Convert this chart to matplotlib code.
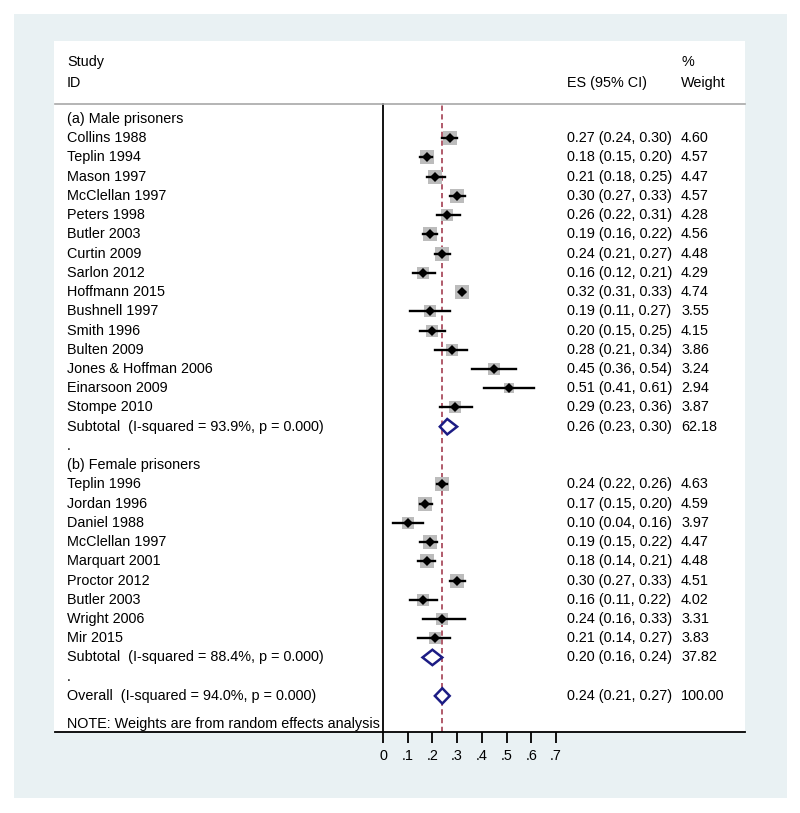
import matplotlib
matplotlib.use("Agg")
import matplotlib.pyplot as plt
from matplotlib.patches import Rectangle, Polygon
from matplotlib.lines import Line2D
import matplotlib.transforms as mtransforms

plt.rcParams['font.family'] = ['Liberation Sans', 'DejaVu Sans']

# data
male_studies = ["Collins 1988", "Teplin 1994", "Mason 1997", "McClellan 1997", "Peters 1998",
                "Butler 2003", "Curtin 2009", "Sarlon 2012", "Hoffmann 2015", "Bushnell 1997",
                "Smith 1996", "Bulten 2009", "Jones & Hoffman 2006", "Einarsoon 2009", "Stompe 2010"]
male_es = [0.27, 0.18, 0.21, 0.30, 0.26, 0.19, 0.24, 0.16, 0.32, 0.19, 0.20, 0.28, 0.45, 0.51, 0.29]
male_lo = [0.24, 0.15, 0.18, 0.27, 0.22, 0.16, 0.21, 0.12, 0.31, 0.11, 0.15, 0.21, 0.36, 0.41, 0.23]
male_hi = [0.30, 0.20, 0.25, 0.33, 0.31, 0.22, 0.27, 0.21, 0.33, 0.27, 0.25, 0.34, 0.54, 0.61, 0.36]
male_w = [4.60, 4.57, 4.47, 4.57, 4.28, 4.56, 4.48, 4.29, 4.74, 3.55, 4.15, 3.86, 3.24, 2.94, 3.87]

female_studies = ["Teplin 1996", "Jordan 1996", "Daniel 1988", "McClellan 1997", "Marquart 2001",
                  "Proctor 2012", "Butler 2003", "Wright 2006", "Mir 2015"]
female_es = [0.24, 0.17, 0.10, 0.19, 0.18, 0.30, 0.16, 0.24, 0.21]
female_lo = [0.22, 0.15, 0.04, 0.15, 0.14, 0.27, 0.11, 0.16, 0.14]
female_hi = [0.26, 0.20, 0.16, 0.22, 0.21, 0.33, 0.22, 0.33, 0.27]
female_w = [4.63, 4.59, 3.97, 4.47, 4.48, 4.51, 4.02, 3.31, 3.83]

# pooled: (label, es, lo, hi, weight)
male_sub = ("Subtotal  (I-squared = 93.9%, p = 0.000)", 0.26, 0.23, 0.30, 62.18)
female_sub = ("Subtotal  (I-squared = 88.4%, p = 0.000)", 0.20, 0.16, 0.24, 37.82)
overall = ("Overall  (I-squared = 94.0%, p = 0.000)", 0.24, 0.21, 0.27, 100.00)

xticks = [0, 0.1, 0.2, 0.3, 0.4, 0.5, 0.6, 0.7]
xtick_labels = ["0", ".1", ".2", ".3", ".4", ".5", ".6", ".7"]

W, H = 800, 813
BG = "#e9f1f3"
NAVY = "#1c1c84"
FS = 10.35


def fx(px):
    return px / W


def fy(py):
    return 1 - py / H


fig = plt.figure(figsize=(W / 100, H / 100), dpi=100)
fig.patch.set_facecolor("white")
fig.patches.append(Rectangle((fx(14), fy(798)), fx(787 - 14), (798 - 14) / H,
                             transform=fig.transFigure, facecolor=BG, edgecolor="none", zorder=-3))
fig.patches.append(Rectangle((fx(54), fy(732)), fx(745 - 54), (732 - 41) / H,
                             transform=fig.transFigure, facecolor="white", edgecolor="none", zorder=-2))

# plot area: left edge is x = 0
ax = fig.add_axes([fx(383), fy(732), fx(745 - 383), (732 - 104) / H])
ax.set_facecolor("none")
ax.patch.set_alpha(0)
row_h = 19.23
ax.set_xlim(0, (745 - 383) / 247.0)
ax.set_ylim((732 - 119) / row_h, -(119 - 104) / row_h)
for s in ["top", "right"]:
    ax.spines[s].set_visible(False)
ax.spines["left"].set_linewidth(1.3)
ax.spines["bottom"].set_visible(False)
ax.set_yticks([])
ax.set_xticks(xticks)
ax.set_xticklabels(xtick_labels, fontsize=FS)
ax.tick_params(axis="x", length=8, width=1.3, pad=4)

# build the rows
rows = []  # (label, es, lo, hi, w, kind)
rows.append(("(a) Male prisoners", None, None, None, None, "head"))
for i in range(len(male_studies)):
    rows.append((male_studies[i], male_es[i], male_lo[i], male_hi[i], male_w[i], "study"))
rows.append(male_sub + ("pool",))
rows.append((".", None, None, None, None, "head"))
rows.append(("(b) Female prisoners", None, None, None, None, "head"))
for i in range(len(female_studies)):
    rows.append((female_studies[i], female_es[i], female_lo[i], female_hi[i], female_w[i], "study"))
rows.append(female_sub + ("pool",))
rows.append((".", None, None, None, None, "head"))
rows.append(overall + ("pool",))

# overall line
ax.axvline(overall[1], color="#b05a6a", lw=1.4, ls=(0, (2.7, 1.8)), zorder=1)

lab_tr = mtransforms.blended_transform_factory(fig.transFigure, ax.transData)
for y, (label, es, lo, hi, w, kind) in enumerate(rows):
    ax.text(fx(67) , y, label, transform=lab_tr, fontsize=FS, va="center", ha="left")
    if es is None:
        continue
    ax.text(fx(567), y, "%.2f (%.2f, %.2f)" % (es, lo, hi), transform=lab_tr,
            fontsize=FS, va="center", ha="left")
    ax.text(fx(681), y, "%.2f" % w, transform=lab_tr, fontsize=FS, va="center", ha="left")
    if kind == "study":
        side = 9.6 * (w / 4.6) ** 0.5
        ax.plot([es], [y], marker="s", ms=side, color="#bcbcbc", mew=0, zorder=2)
        ax.plot([lo, hi], [y, y], color="black", lw=1.7, zorder=3)
        ax.plot([es], [y], marker="D", ms=5.5, color="black", mew=0, zorder=4)
    else:
        dh = 0.4
        ax.add_patch(Polygon([(lo, y), (es, y - dh), (hi, y), (es, y + dh)], closed=True,
                             facecolor="white", edgecolor=NAVY, lw=1.8, zorder=3))

ax.text(fx(67), 31.45, "NOTE: Weights are from random effects analysis", transform=lab_tr,
        fontsize=FS, va="center", ha="left")

# header
fig.text(fx(67), fy(62), "Study", fontsize=FS, va="center", ha="left")
fig.text(fx(67), fy(83), "ID", fontsize=FS, va="center", ha="left")
fig.text(fx(567), fy(83), "ES (95% CI)", fontsize=FS, va="center", ha="left")
fig.text(fx(681), fy(62), "%", fontsize=FS, va="center", ha="left")
fig.text(fx(681), fy(83), "Weight", fontsize=FS, va="center", ha="left")

fig.lines.append(Line2D([fx(55), fx(745)], [fy(104), fy(104)], transform=fig.transFigure,
                        color="#a8a8a8", lw=1.2))
fig.lines.append(Line2D([fx(55), fx(745)], [fy(732), fy(732)], transform=fig.transFigure,
                        color="black", lw=1.3))

fig.savefig("out.png", dpi=100)
